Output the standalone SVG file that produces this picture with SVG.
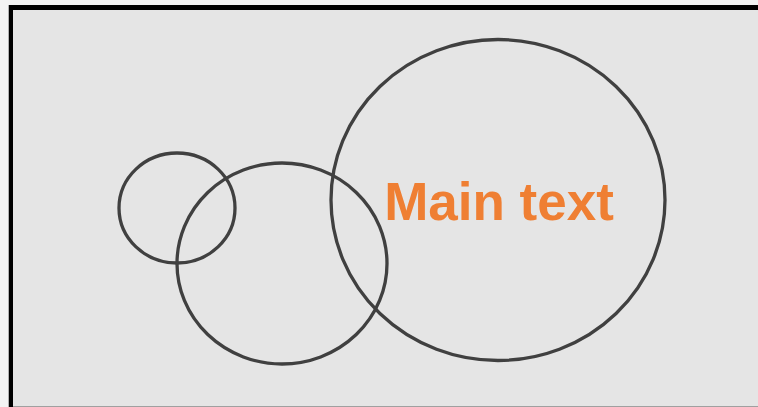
<svg xmlns="http://www.w3.org/2000/svg" width="758" height="407" viewBox="0 0 758 407">
  <style>
    .c { fill: none; stroke: #404040; stroke-width: 3.3; }
    .t { font-family: "Liberation Sans", Arial, sans-serif; font-weight: bold; font-size: 53px; fill: #EF7F33; }
  </style>
  <rect x="0" y="0" width="758" height="407" fill="#f3f3f3"/>
  <rect x="13" y="10" width="745" height="396" fill="#e5e5e5"/>
  <rect x="8" y="5" width="1" height="402" fill="#b0b0b0"/>
  <rect x="9" y="5" width="749" height="5" fill="#000000"/>
  <rect x="9" y="5" width="4" height="402" fill="#000000"/>
  <rect x="13" y="406" width="745" height="1" fill="#a0a0a0"/>
  <g id="circle-small">
    <ellipse class="c" cx="177" cy="208" rx="58" ry="55"/>
  </g>
  <g id="circle-medium">
    <ellipse class="c" cx="282" cy="263.5" rx="105" ry="100.5"/>
  </g>
  <g id="circle-large">
    <ellipse class="c" cx="498" cy="200" rx="167" ry="160.5"/>
    <text class="t" x="499" y="220" text-anchor="middle">Main text</text>
  </g>
  <g id="connectors"/>
</svg>
